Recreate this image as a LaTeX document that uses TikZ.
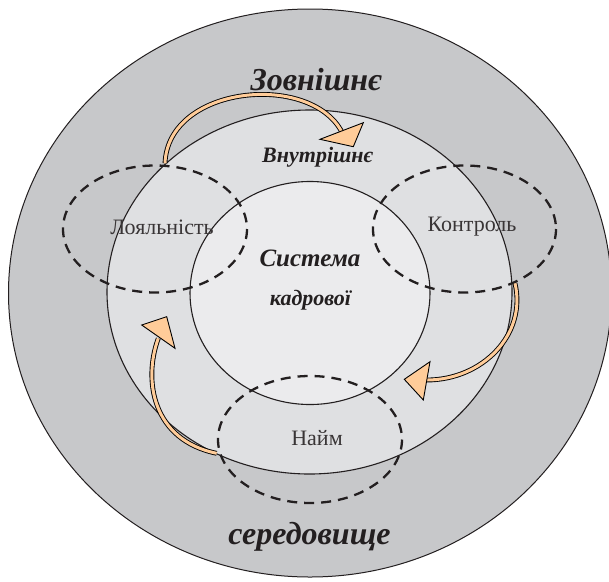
\documentclass[tikz,border=0pt]{standalone}
\usepackage{fontspec}
\setmainfont{Liberation Serif}

\begin{document}
\begin{tikzpicture}[x=1pt,y=-1pt,line join=round,
  biglabel/.style={font=\fontsize{32}{36}\selectfont\bfseries\itshape,text=txtcol},
  midlabel/.style={font=\fontsize{22}{26}\selectfont\bfseries\itshape,text=txtcol},
  corelabel/.style={font=\fontsize{25}{29}\selectfont\bfseries\itshape,text=txtcol},
  zonelabel/.style={font=\fontsize{22}{26}\selectfont,text=txtcol!90!white},
  zone/.style={draw=txtcol,line width=2.3pt,dash pattern=on 10pt off 7pt},
  shaft/.style={draw=black,line width=0.9pt,double=arrcol,double distance=3pt},
  arrhead/.style={fill=arrcol,draw=black,line width=0.9pt,line join=miter}]
  \definecolor{txtcol}{RGB}{35,31,32}
  \definecolor{outercol}{RGB}{199,200,202}
  \definecolor{middlecol}{RGB}{223,224,226}
  \definecolor{innercol}{RGB}{235,235,237}
  \definecolor{arrcol}{RGB}{255,204,153}

  \useasboundingbox (0,0) rectangle (609,581);

  % ---- environment rings ----
  \begin{scope}
    \clip (0,0) rectangle (609,581);
    \fill[outercol,draw=txtcol,line width=1pt] (310,293) ellipse (301.5 and 284);
  \end{scope}
  \fill[middlecol,draw=txtcol,line width=1.1pt] (309.5,292) ellipse (202.5 and 182);
  \fill[innercol,draw=txtcol,line width=1.1pt] (310,293) ellipse (120 and 111.5);

  % ---- dashed zones ----
  \draw[zone] (155,229) ellipse (92 and 63.5);
  \draw[zone] (464.5,229) ellipse (91.5 and 63.5);
  \draw[zone] (310,439.5) ellipse (92 and 63.5);

  % ---- cycle arrows ----
  \coordinate (loyout) at (165,163.3);
  \coordinate (ctrlin) at (341.7,131.7);
  \coordinate (ctrlout) at (515,283.3);
  \coordinate (hirein) at (426.7,380);
  \coordinate (hireout) at (216.7,453.3);
  \coordinate (loyin) at (158.3,338.3);

  % Loyalty -> Control
  \draw[shaft] (loyout) .. controls (168,85) and (310,72) .. (ctrlin);
  \filldraw[arrhead] (320,139.3) -- (363.3,122.7) -- (353.3,146.7) -- cycle;
  % Control -> Hiring
  \draw[shaft] (ctrlout) .. controls (527,335) and (482,380) .. (hirein);
  \filldraw[arrhead] (430,361.7) -- (404.3,379.3) -- (423.3,400) -- cycle;
  % Hiring -> Loyalty
  \draw[shaft] (hireout) .. controls (152,440) and (143,380) .. (loyin);
  \filldraw[arrhead] (141.7,325) -- (166.7,316.7) -- (175,348.3) -- cycle;

  % ---- labels ----
  \node[biglabel] (outtop) at (316,80) {Зовнішнє};
  \node[biglabel] (outbot) at (309.5,537) {середовище};
  \node[midlabel] (inner) at (317.5,157) {Внутрішнє};
  \node[corelabel] (core1) at (310,258) {Система};
  \node[midlabel] (core2) at (310.5,300) {кадрової};
  \node[zonelabel] (loyal) at (162,227) {Лояльність};
  \node[zonelabel] (ctrl) at (472,227) {Контроль};
  \node[zonelabel] (hire) at (317,438.5) {Найм};
\end{tikzpicture}
\end{document}
